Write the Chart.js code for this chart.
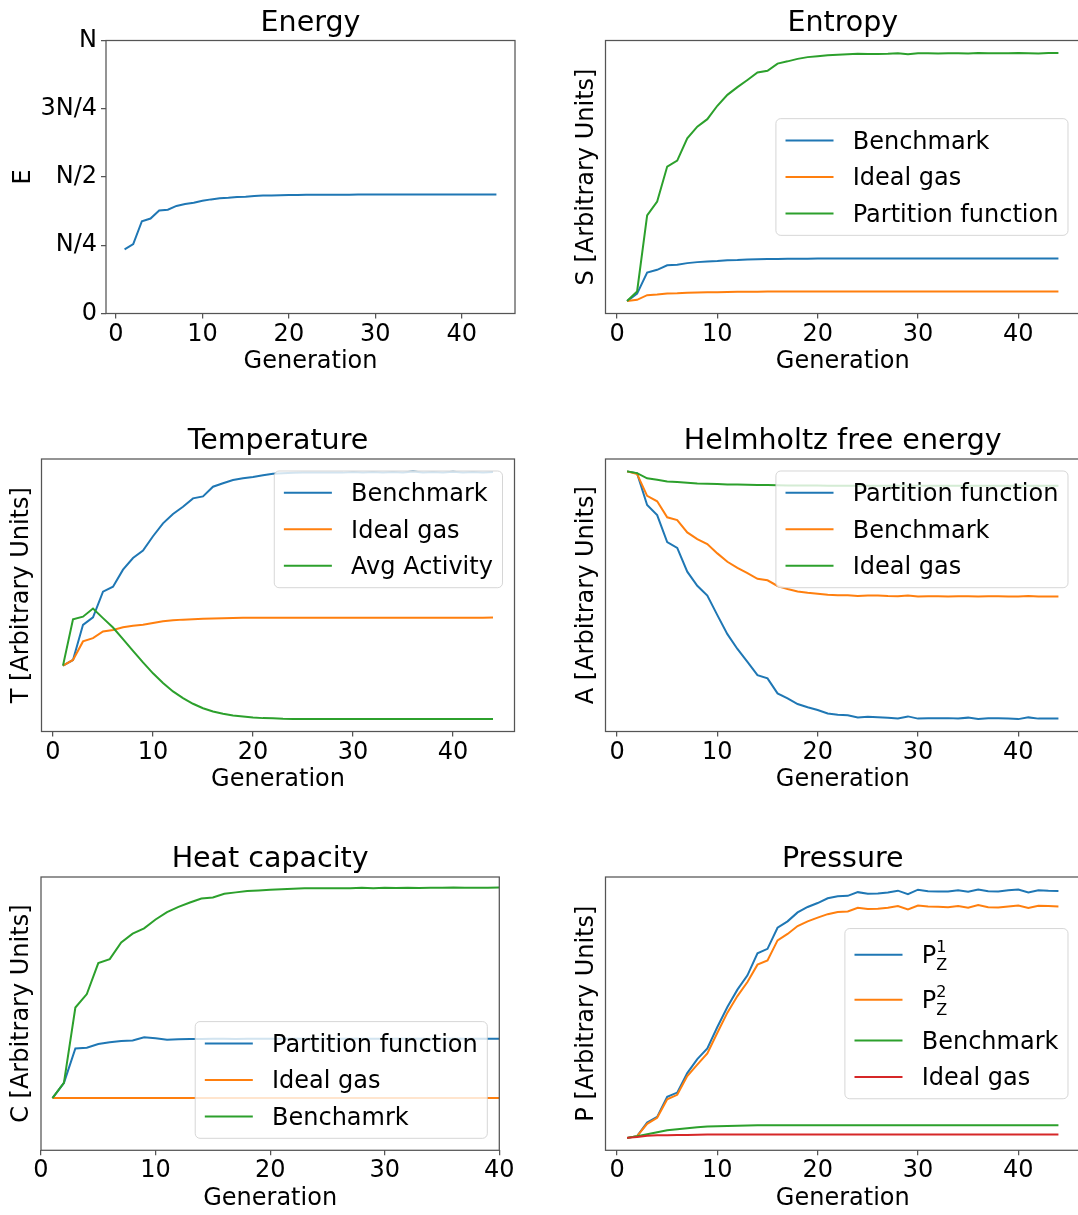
<!DOCTYPE html>
<html>
<head>
<meta charset="utf-8">
<title>Thermodynamic quantities per generation</title>
<script src="https://cdn.jsdelivr.net/npm/chart.js@4.4.1/dist/chart.umd.min.js"></script>
<style>
html, body { margin: 0; padding: 0; background: #fff; overflow: hidden; width: 1078px; height: 1215px; }
canvas { position: absolute; }
</style>
</head>
<body>
<canvas id="energy"></canvas>
<canvas id="entropy"></canvas>
<canvas id="temperature"></canvas>
<canvas id="helmholtz"></canvas>
<canvas id="heat"></canvas>
<canvas id="pressure"></canvas>
<script>
// ---- data ----
const generations = [1, 2, 3, 4, 5, 6, 7, 8, 9, 10, 11, 12, 13, 14, 15, 16, 17, 18, 19, 20, 21, 22,
    23, 24, 25, 26, 27, 28, 29, 30, 31, 32, 33, 34, 35, 36, 37, 38, 39, 40, 41, 42, 43, 44];
const xTickValues = [0, 10, 20, 30, 40];

// energy as a fraction of N
const energyValues = [0.235, 0.254, 0.338, 0.348, 0.377, 0.380, 0.394, 0.401, 0.406, 0.413,
    0.418, 0.422, 0.424, 0.427, 0.428, 0.430, 0.432, 0.432, 0.433, 0.434,
    0.434, 0.435, 0.435, 0.435, 0.435, 0.435, 0.435, 0.436, 0.436, 0.436,
    0.436, 0.436, 0.436, 0.436, 0.436, 0.436, 0.436, 0.436, 0.436, 0.436, 0.436, 0.436, 0.436, 0.436];
const energyTickValues = [0, 0.25, 0.5, 0.75, 1];
const energyTickLabels = ['0', 'N/4', 'N/2', '3N/4', 'N'];

const entropyBenchmark = [0, 3.0, 11.5, 12.6, 14.4, 14.6, 15.3, 15.7, 16.0, 16.2,
    16.5, 16.6, 16.8, 16.9, 17.0, 17.0, 17.1, 17.1, 17.1, 17.2,
    17.2, 17.2, 17.2, 17.2, 17.2, 17.2, 17.2, 17.2, 17.2, 17.2,
    17.2, 17.2, 17.2, 17.2, 17.2, 17.2, 17.2, 17.2, 17.2, 17.2, 17.2, 17.2, 17.2, 17.2];
const entropyIdealGas = [0, 0.5, 2.4, 2.7, 3.1, 3.2, 3.4, 3.5, 3.6, 3.6,
    3.7, 3.8, 3.8, 3.8, 3.9, 3.9, 3.9, 3.9, 3.9, 3.9,
    3.9, 3.9, 3.9, 3.9, 3.9, 3.9, 3.9, 3.9, 3.9, 3.9,
    3.9, 3.9, 3.9, 3.9, 3.9, 3.9, 3.9, 3.9, 3.9, 3.9, 3.9, 3.9, 3.9, 3.9];
const entropyPartition = [0, 3.9, 34.5, 40.1, 54.2, 56.6, 65.6, 70.3, 73.3, 78.7,
    83.1, 86.2, 89.1, 92.1, 92.8, 95.7, 96.6, 97.6, 98.3, 98.7,
    99.1, 99.3, 99.5, 99.7, 99.6, 99.6, 99.7, 99.9, 99.5, 99.9,
    99.9, 99.8, 99.9, 99.9, 99.8, 100, 99.9, 99.9, 99.9, 100, 99.9, 99.8, 100, 100];

const tempBenchmark = [21.6, 23.9, 38.1, 41.1, 51.5, 53.5, 60.4, 65.1, 68.1, 73.9,
    79.1, 82.9, 85.8, 89.2, 90.0, 93.9, 95.3, 96.6, 97.3, 97.8,
    98.5, 99.1, 99.3, 99.5, 99.6, 99.7, 99.7, 99.7, 99.6, 99.9,
    99.7, 99.9, 99.7, 99.9, 99.7, 100.1, 99.7, 99.9, 99.7, 100.0, 99.7, 99.9, 99.7, 99.9];
const tempIdealGas = [21.6, 23.9, 31.4, 32.7, 35.4, 36.0, 37.1, 37.7, 38.1, 38.8,
    39.5, 39.9, 40.2, 40.4, 40.6, 40.7, 40.8, 40.9, 41.0, 41.0,
    41.0, 41.0, 41.0, 41.0, 41.0, 41.0, 41.0, 41.0, 41.0, 41.0,
    41.0, 41.0, 41.0, 41.0, 41.0, 41.0, 41.0, 41.0, 41.0, 41.0, 41.0, 41.0, 41.0, 41.1];
const tempAvgActivity = [21.6, 40.3, 41.4, 44.7, 40.8, 37.0, 32.3, 27.6, 22.9, 18.5,
    14.6, 11.2, 8.5, 6.2, 4.4, 3.1, 2.2, 1.5, 1.1, 0.7,
    0.4, 0.3, 0.1, 0, 0, 0, 0, 0, 0, 0,
    0, 0, 0, 0, 0, 0, 0, 0, 0, 0, 0, 0, 0, 0];

const helmPartition = [100, 99.2, 86.4, 82.3, 71.4, 69.0, 59.4, 53.7, 49.7, 41.8,
    34.1, 28.1, 22.9, 17.5, 16.2, 10.1, 8.1, 5.8, 4.5, 3.4,
    2.0, 1.5, 1.3, 0.4, 0.7, 0.5, 0.3, 0, 0.8, -0.1,
    0, 0, 0.1, -0.1, 0.3, -0.3, 0, 0, -0.1, -0.3, 0.4, -0.1, -0.1, -0.1];
const helmBenchmark = [100, 98.9, 90.1, 87.9, 81.4, 80.3, 75.3, 72.6, 70.6, 66.8,
    63.4, 60.9, 58.8, 56.5, 55.9, 53.6, 52.4, 51.4, 50.9, 50.5,
    50.1, 49.9, 49.8, 49.5, 49.7, 49.7, 49.5, 49.4, 49.7, 49.3,
    49.4, 49.4, 49.3, 49.4, 49.4, 49.3, 49.4, 49.4, 49.3, 49.3, 49.5, 49.3, 49.3, 49.3];
const helmIdealGas = [100, 99.3, 97.2, 96.6, 95.9, 95.7, 95.4, 95.1, 95.0, 94.9,
    94.7, 94.7, 94.6, 94.5, 94.5, 94.4, 94.3, 94.3, 94.3, 94.3,
    94.2, 94.2, 94.2, 94.2, 94.2, 94.2, 94.2, 94.2, 94.2, 94.2,
    94.2, 94.2, 94.2, 94.2, 94.2, 94.2, 94.2, 94.2, 94.2, 94.2, 94.2, 94.2, 94.2, 94.2];

const heatPartition = [24.8, 32.0, 48.4, 48.7, 50.5, 51.3, 51.9, 52.2, 53.7, 53.2,
    52.5, 52.7, 52.9, 52.9, 53.0, 53.0, 52.9, 53.0, 53.0, 53.0,
    53.0, 53.0, 53.0, 53.0, 53.0, 53.0, 53.0, 53.0, 53.0, 53.0,
    53.0, 53.0, 53.0, 53.0, 53.0, 53.0, 53.0, 53.0, 53.0, 53.0, 53.0, 53.0, 53.0, 53.0];
const heatIdealGas = [24.8, 24.8, 24.8, 24.8, 24.8, 24.8, 24.8, 24.8, 24.8, 24.8,
    24.8, 24.8, 24.8, 24.8, 24.8, 24.8, 24.8, 24.8, 24.8, 24.8,
    24.8, 24.8, 24.8, 24.8, 24.8, 24.8, 24.8, 24.8, 24.8, 24.8,
    24.8, 24.8, 24.8, 24.8, 24.8, 24.8, 24.8, 24.8, 24.8, 24.8, 24.8, 24.8, 24.8, 24.8];
const heatBenchmark = [24.8, 32.0, 67.8, 74.2, 88.9, 90.8, 98.7, 102.9, 105.4, 109.6,
    113.1, 115.6, 117.7, 119.6, 120.1, 121.8, 122.5, 123.1, 123.4, 123.7,
    124.0, 124.2, 124.4, 124.4, 124.5, 124.5, 124.5, 124.7, 124.4, 124.7,
    124.6, 124.7, 124.6, 124.7, 124.7, 124.8, 124.7, 124.7, 124.7, 124.8, 124.8, 124.8, 124.8, 124.8];

const pressurePZ1 = [0, 0.7, 6.2, 8.5, 16.6, 18.3, 26.2, 31.8, 36.1, 44.8,
    52.9, 59.9, 65.7, 74.6, 76.4, 84.9, 87.5, 91.1, 93.3, 94.9,
    96.8, 97.6, 97.8, 99.3, 98.7, 98.8, 99.2, 99.9, 98.5, 100.3,
    99.7, 99.6, 99.6, 100.1, 99.5, 100.4, 99.7, 99.6, 100.1, 100.4, 99.2, 100.1, 99.9, 99.8];
const pressurePZ2 = [0, 0.7, 5.7, 8.1, 15.6, 17.4, 25.0, 29.6, 34.1, 42.5,
    50.6, 57.3, 63.0, 70.0, 71.7, 79.8, 82.4, 85.6, 87.5, 89.0,
    90.4, 91.3, 91.5, 93.0, 92.5, 92.6, 93.0, 93.7, 92.3, 93.9,
    93.5, 93.4, 93.2, 93.7, 93.0, 94.1, 93.2, 93.1, 93.5, 93.9, 92.9, 93.8, 93.7, 93.5];
const pressureBenchmark = [0, 0.7, 1.5, 2.3, 3.1, 3.5, 3.9, 4.3, 4.6, 4.7,
    4.8, 4.9, 5.0, 5.1, 5.1, 5.1, 5.1, 5.1, 5.1, 5.1,
    5.1, 5.1, 5.1, 5.1, 5.1, 5.1, 5.1, 5.1, 5.1, 5.1,
    5.1, 5.1, 5.1, 5.1, 5.1, 5.1, 5.1, 5.1, 5.1, 5.1, 5.1, 5.1, 5.1, 5.1];
const pressureIdealGas = [0, 0.4, 0.9, 1.1, 1.1, 1.2, 1.2, 1.3, 1.35, 1.35,
    1.35, 1.35, 1.35, 1.35, 1.35, 1.35, 1.35, 1.35, 1.35, 1.35,
    1.35, 1.35, 1.35, 1.35, 1.35, 1.35, 1.35, 1.35, 1.35, 1.35,
    1.35, 1.35, 1.35, 1.35, 1.35, 1.35, 1.35, 1.35, 1.35, 1.35, 1.35, 1.35, 1.35, 1.35];

// ---- styling ----
const BLUE = '#1f77b4', ORANGE = '#ff7f0e', GREEN = '#2ca02c', RED = '#d62728';
const FONT = 'DejaVu Sans';
const TICK_SIZE = 24, TITLE_SIZE = 28.5, LEGEND_SIZE = 24;
const SPINE = '#555';

// matplotlib-like autoscale: 5% margin on each side
function padRange(series, fixedMin) {
    const all = series.flat();
    const lo = Math.min(...all), hi = Math.max(...all);
    const m = (hi - lo) * 0.05;
    return { min: fixedMin !== undefined ? fixedMin : lo - m, max: hi + m };
}

function points(values) {
    return generations.map((g, i) => ({ x: g, y: values[i] }));
}

function parseLabel(label) {
    const m = /^(\w+)_(\w+)\^(\w+)$/.exec(label);
    return m ? { base: m[1], sub: m[2], sup: m[3] } : { base: label };
}

function drawLegend(chart, loc) {
    const ctx = chart.ctx, a = chart.chartArea, fs = LEGEND_SIZE;
    const pad = 0.4 * fs, hLen = 2 * fs, hPad = 0.8 * fs, gap = 0.5 * fs, axPad = 0.5 * fs;
    const big = fs + 'px "' + FONT + '"', small = '16px "' + FONT + '"';
    const rows = chart.data.datasets.map(ds => {
        const p = parseLabel(ds.label);
        ctx.font = big;
        let w = ctx.measureText(p.base).width;
        if (p.sub) {
            ctx.font = small;
            w += Math.max(ctx.measureText(p.sub).width, ctx.measureText(p.sup).width);
        }
        return { p, w, h: p.sub ? 33 : 24.5, color: ds.borderColor };
    });
    const boxW = 2 * pad + hLen + hPad + Math.max(...rows.map(r => r.w));
    const boxH = 2 * pad + rows.reduce((s, r) => s + r.h, 0) + gap * (rows.length - 1);
    const x = a.right - axPad - boxW;
    let y;
    if (loc === 'upper right') y = a.top + axPad;
    else if (loc === 'lower right') y = a.bottom - axPad - boxH;
    else y = (a.top + a.bottom) / 2 - boxH / 2;

    ctx.beginPath();
    ctx.roundRect(x, y, boxW, boxH, 0.2 * fs);
    ctx.fillStyle = 'rgba(255,255,255,0.8)';
    ctx.fill();
    ctx.strokeStyle = 'rgba(204,204,204,0.8)';
    ctx.lineWidth = 1;
    ctx.stroke();

    let cy = y + pad;
    rows.forEach(r => {
        const mid = cy + r.h / 2;
        ctx.strokeStyle = r.color;
        ctx.lineWidth = 2;
        ctx.beginPath();
        ctx.moveTo(x + pad, mid);
        ctx.lineTo(x + pad + hLen, mid);
        ctx.stroke();
        const tx = x + pad + hLen + hPad, base = mid + 0.35 * fs;
        ctx.fillStyle = '#000';
        ctx.textAlign = 'left';
        ctx.textBaseline = 'alphabetic';
        ctx.font = big;
        ctx.fillText(r.p.base, tx, base);
        if (r.p.sub) {
            const sx = tx + ctx.measureText(r.p.base).width;
            ctx.font = small;
            ctx.fillText(r.p.sup, sx, base - 11);
            ctx.fillText(r.p.sub, sx, base + 6.5);
        }
        cy += r.h + gap;
    });
}

// four spines + in-axes legend, drawn over the lines
const mplFrame = {
    id: 'mplFrame',
    afterDatasetsDraw(chart, args, opts) {
        const a = chart.chartArea, ctx = chart.ctx;
        ctx.save();
        ctx.strokeStyle = SPINE;
        ctx.lineWidth = 1.25;
        ctx.strokeRect(a.left, a.top, a.right - a.left, a.bottom - a.top);
        if (opts.loc) drawLegend(chart, opts.loc);
        ctx.restore();
    }
};

function makePanel(id, rect, cfg) {
    const cL = rect.L < 540 ? 0 : 540;
    const cT = Math.floor(rect.T - 40);
    const cR = rect.R > 1000 ? 1082 : Math.ceil(rect.R + 30);
    const cB = Math.ceil(rect.B + 66);
    const canvas = document.getElementById(id);
    canvas.width = cR - cL;
    canvas.height = cB - cT;
    canvas.style.left = cL + 'px';
    canvas.style.top = cT + 'px';

    const yAxisW = rect.L - cL, topH = rect.T - cT, xAxisH = cB - rect.B;
    const labelLH = TICK_SIZE * 1.2, titleLH = TITLE_SIZE * 1.2;
    const titlePadTop = (rect.T - 7.5 - 0.346 * TITLE_SIZE - cT) - titleLH / 2;
    const yTitlePad = (cfg.yLabelX - cL) - labelLH / 2;
    const xTitlePad = (xAxisH - 48.5) - labelLH / 2;
    const tickFont = { family: FONT, size: TICK_SIZE };
    const yHasTicks = !!cfg.yTicks;

    new Chart(canvas, {
        type: 'line',
        data: {
            datasets: cfg.series.map((s, i, arr) => ({
                label: s.label,
                data: points(s.values),
                borderColor: s.color,
                backgroundColor: s.color,
                borderWidth: 2,
                pointRadius: 0,
                tension: 0,
                fill: false,
                order: arr.length - i
            }))
        },
        options: {
            responsive: false,
            animation: false,
            devicePixelRatio: 1,
            layout: { padding: { left: 0, top: 0, right: cR - rect.R, bottom: 0 } },
            plugins: {
                legend: { display: false },
                tooltip: { enabled: false },
                title: {
                    display: true, text: cfg.title, fullSize: false, color: '#000',
                    font: { family: FONT, size: TITLE_SIZE, weight: 'normal' },
                    padding: { top: titlePadTop, bottom: topH - titleLH - titlePadTop }
                },
                mplFrame: { loc: cfg.legendLoc }
            },
            scales: {
                x: {
                    type: 'linear',
                    min: cfg.xRange.min,
                    max: cfg.xRange.max,
                    afterBuildTicks: s => { s.ticks = xTickValues.map(v => ({ value: v })); },
                    afterFit: s => { s.height = xAxisH; },
                    border: { display: false },
                    grid: { display: true, drawOnChartArea: false, drawTicks: true, tickLength: 5, color: SPINE, lineWidth: 1.25 },
                    ticks: { color: '#000', font: tickFont, padding: 1.5, maxRotation: 0, autoSkip: false, callback: v => String(v) },
                    title: {
                        display: true, text: 'Generation', color: '#000', font: tickFont,
                        padding: { top: 0, bottom: xTitlePad }
                    }
                },
                y: {
                    type: 'linear',
                    min: cfg.yRange.min,
                    max: cfg.yRange.max,
                    afterBuildTicks: yHasTicks ? (s => { s.ticks = cfg.yTicks.map(v => ({ value: v })); }) : undefined,
                    afterFit: s => { s.width = yAxisW; },
                    border: { display: false },
                    grid: yHasTicks
                        ? { display: true, drawOnChartArea: false, drawTicks: true, tickLength: 5, color: SPINE, lineWidth: 1.25 }
                        : { display: false },
                    ticks: yHasTicks
                        ? { color: '#000', font: tickFont, padding: 4, callback: v => cfg.yTickLabels[cfg.yTicks.indexOf(v)] }
                        : { display: false },
                    title: {
                        display: true, text: cfg.yLabel, color: '#000', font: tickFont,
                        padding: { top: yTitlePad, bottom: 0 }
                    }
                }
            }
        },
        plugins: [mplFrame]
    });
}

const genRange = padRange([generations]);

makePanel('energy', { L: 106, T: 40.5, R: 515, B: 313.5 }, {
    title: 'Energy', yLabel: 'E', yLabelX: 23.5,
    xRange: genRange, yRange: { min: 0, max: 1 },
    yTicks: energyTickValues, yTickLabels: energyTickLabels,
    series: [{ label: 'Energy', values: energyValues, color: BLUE }]
});

makePanel('entropy', { L: 605.5, T: 40.5, R: 1080, B: 313.5 }, {
    title: 'Entropy', yLabel: 'S [Arbitrary Units]', yLabelX: 586.5,
    xRange: genRange, yRange: padRange([entropyBenchmark, entropyIdealGas, entropyPartition]),
    legendLoc: 'center right',
    series: [
        { label: 'Benchmark', values: entropyBenchmark, color: BLUE },
        { label: 'Ideal gas', values: entropyIdealGas, color: ORANGE },
        { label: 'Partition function', values: entropyPartition, color: GREEN }
    ]
});

makePanel('temperature', { L: 41.5, T: 459, R: 514.5, B: 731.5 }, {
    title: 'Temperature', yLabel: 'T [Arbitrary Units]', yLabelX: 21.6,
    xRange: genRange, yRange: padRange([tempBenchmark, tempIdealGas, tempAvgActivity]),
    legendLoc: 'upper right',
    series: [
        { label: 'Benchmark', values: tempBenchmark, color: BLUE },
        { label: 'Ideal gas', values: tempIdealGas, color: ORANGE },
        { label: 'Avg Activity', values: tempAvgActivity, color: GREEN }
    ]
});

makePanel('helmholtz', { L: 605.5, T: 459, R: 1080, B: 731.5 }, {
    title: 'Helmholtz free energy', yLabel: 'A [Arbitrary Units]', yLabelX: 586.5,
    xRange: genRange, yRange: padRange([helmPartition, helmBenchmark, helmIdealGas]),
    legendLoc: 'upper right',
    series: [
        { label: 'Partition function', values: helmPartition, color: BLUE },
        { label: 'Benchmark', values: helmBenchmark, color: ORANGE },
        { label: 'Ideal gas', values: helmIdealGas, color: GREEN }
    ]
});

makePanel('heat', { L: 41, T: 877, R: 499.3, B: 1150.3 }, {
    title: 'Heat capacity', yLabel: 'C [Arbitrary Units]', yLabelX: 21.6,
    xRange: { min: 0, max: 40 }, yRange: padRange([heatPartition, heatIdealGas, heatBenchmark], 0),
    legendLoc: 'lower right',
    series: [
        { label: 'Partition function', values: heatPartition, color: BLUE },
        { label: 'Ideal gas', values: heatIdealGas, color: ORANGE },
        { label: 'Benchamrk', values: heatBenchmark, color: GREEN }
    ]
});

makePanel('pressure', { L: 605.5, T: 877, R: 1080, B: 1150.3 }, {
    title: 'Pressure', yLabel: 'P [Arbitrary Units]', yLabelX: 586.5,
    xRange: genRange, yRange: padRange([pressurePZ1, pressurePZ2, pressureBenchmark, pressureIdealGas]),
    legendLoc: 'center right',
    series: [
        { label: 'P_Z^1', values: pressurePZ1, color: BLUE },
        { label: 'P_Z^2', values: pressurePZ2, color: ORANGE },
        { label: 'Benchmark', values: pressureBenchmark, color: GREEN },
        { label: 'Ideal gas', values: pressureIdealGas, color: RED }
    ]
});
</script>
</body>
</html>
